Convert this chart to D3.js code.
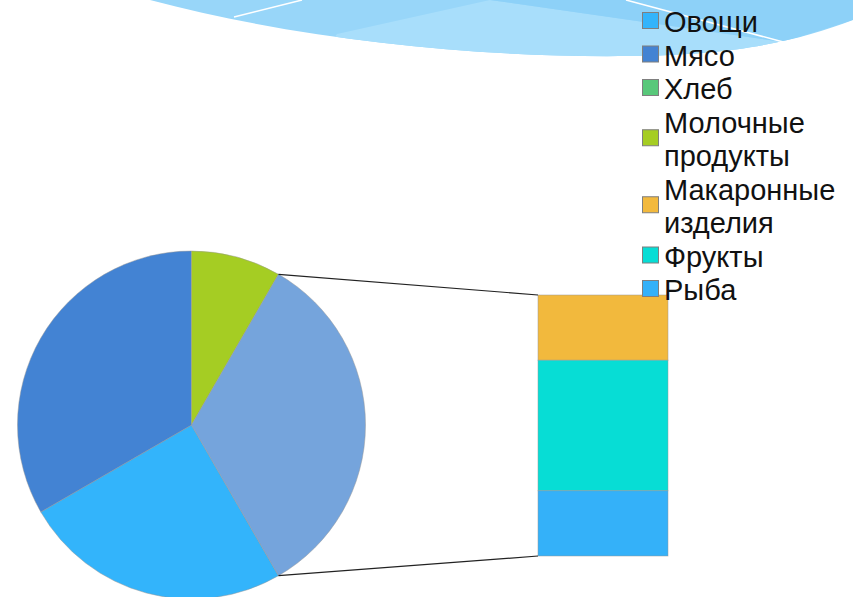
<!DOCTYPE html>
<html>
<head>
<meta charset="utf-8">
<script src="https://cdn.jsdelivr.net/npm/d3@7"></script>
<style>
  html, body { margin: 0; padding: 0; background: #ffffff; }
  svg { display: block; }
</style>
</head>
<body>
<svg id="chart" width="853" height="597"></svg>
<script>
// ---- Data ----
const pieCategories = ["Овощи", "Мясо", "Хлеб", "Молочные продукты"];
const pieValues = [3, 4, 0, 1];
const barCategories = ["Макаронные изделия", "Фрукты", "Рыба"];
const barValues = [1, 2, 1];
const legendLabels = [["Овощи"], ["Мясо"], ["Хлеб"], ["Молочные", "продукты"], ["Макаронные", "изделия"], ["Фрукты"], ["Рыба"]];
const legendNames = ["Овощи", "Мясо", "Хлеб", "Молочные продукты", "Макаронные изделия", "Фрукты", "Рыба"];
const colors = {
  "Овощи": "#33b4fb",
  "Мясо": "#4383d3",
  "Хлеб": "#58c87a",
  "Молочные продукты": "#a5cd23",
  "Макаронные изделия": "#f2b93d",
  "Фрукты": "#07ddd5",
  "Рыба": "#34b1f9",
  "Other": "#75a4dc"
};

const svg = d3.select("#chart");

// ---- Decorative top waves ----
const deco = svg.append("g");
const wavePath = "M150,0 C300,40 480,58 630,56 C740,55 800,40 853,20 L853,0 Z";
const defs = svg.append("defs");
defs.append("clipPath").attr("id", "waveClip").append("path").attr("d", wavePath);
deco.append("path").attr("d", wavePath).attr("fill", "#98d6f9");
const clipped = deco.append("g").attr("clip-path", "url(#waveClip)");
clipped.append("path").attr("d", "M337,34 L490,0 L783,42 L853,30 L853,80 L300,80 Z").attr("fill", "#a8defb");
clipped.append("path").attr("d", "M490,0 L783,42 L853,20 L853,0 Z").attr("fill", "#8dd1f8");
deco.append("line").attr("x1", 234).attr("y1", 17).attr("x2", 302).attr("y2", 0)
  .attr("stroke", "#ffffff").attr("stroke-width", 1.5);
deco.append("line").attr("x1", 626).attr("y1", 0).attr("x2", 787).attr("y2", 43)
  .attr("stroke", "#ffffff").attr("stroke-width", 1.5);

// ---- Pie ----
const cx = 191.5, cy = 425, r = 174;
const otherTotal = d3.sum(barValues);
const pieData = pieCategories.map((c, i) => ({ name: c, value: pieValues[i] }))
  .concat([{ name: "Other", value: otherTotal }]);
const total = d3.sum(pieData, d => d.value);
const startDeg = 90 - 0.5 * 360 * otherTotal / total - 360 * (total - otherTotal) / total; // Other centred at 3 o'clock
const startA = startDeg * Math.PI / 180;
const pie = d3.pie().sort(null).value(d => d.value).startAngle(startA).endAngle(startA + 2 * Math.PI);
const arcs = pie(pieData);
const arc = d3.arc().innerRadius(0).outerRadius(r);
const pg = svg.append("g").attr("transform", `translate(${cx},${cy})`);
pg.selectAll("path").data(arcs.filter(d => d.value > 0)).join("path")
  .attr("d", arc)
  .attr("fill", d => colors[d.data.name])
  .attr("stroke", "rgba(150,150,150,0.6)")
  .attr("stroke-width", 0.8);

// ---- Bar ----
const barX = 538, barW = 130, barTop = 295, barBottom = 556;
const y = d3.scaleLinear().domain([0, otherTotal]).range([barTop, barBottom]);
let acc = 0;
const barData = barCategories.map((c, i) => { const d = { name: c, y0: acc, y1: acc + barValues[i] }; acc += barValues[i]; return d; });
svg.append("g").selectAll("rect").data(barData).join("rect")
  .attr("x", barX).attr("width", barW)
  .attr("y", d => y(d.y0)).attr("height", d => y(d.y1) - y(d.y0))
  .attr("fill", d => colors[d.name])
  .attr("stroke", "rgba(150,150,150,0.6)")
  .attr("stroke-width", 0.8);

// ---- Connector lines ----
const otherArc = arcs.find(d => d.data.name === "Other");
const pt = a => [cx + r * Math.sin(a), cy - r * Math.cos(a)];
const p1 = pt(otherArc.startAngle), p2 = pt(otherArc.endAngle);
svg.append("line").attr("x1", p1[0]).attr("y1", p1[1]).attr("x2", barX).attr("y2", y(0))
  .attr("stroke", "#222").attr("stroke-width", 1.2);
svg.append("line").attr("x1", p2[0]).attr("y1", p2[1]).attr("x2", barX).attr("y2", y(otherTotal))
  .attr("stroke", "#222").attr("stroke-width", 1.2);

// ---- Legend ----
const lg = svg.append("g").attr("font-family", "'Liberation Sans', Arial, sans-serif")
  .attr("font-size", 29).attr("fill", "#111");
const lineH = 33.5, base0 = 32;
let line = 0;
legendLabels.forEach((lines, i) => {
  const firstBase = base0 + lineH * line;
  const lastBase = firstBase + lineH * (lines.length - 1);
  const cyS = (firstBase + lastBase) / 2 - 11;
  lg.append("rect").attr("x", 642.5).attr("y", cyS - 8.5).attr("width", 16).attr("height", 16)
    .attr("fill", colors[legendNames[i]]).attr("stroke", "#7f7f7f").attr("stroke-width", 1);
  lines.forEach((t, j) => {
    lg.append("text").attr("x", 664).attr("y", firstBase + lineH * j).text(t);
  });
  line += lines.length;
});
</script>
</body>
</html>
